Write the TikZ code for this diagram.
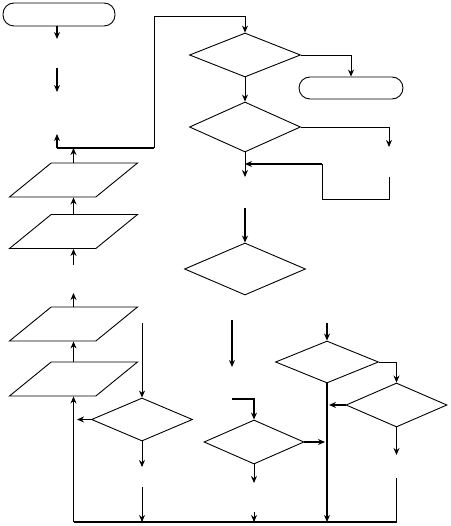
\documentclass[tikz,border=0pt]{standalone}
\usepackage{tikz}
\usetikzlibrary{shapes.geometric, arrows.meta}
\tikzset{
  term/.style     = {rectangle, rounded corners=11pt, draw, line width=0.9pt,
                     minimum width=112pt, minimum height=23pt, inner sep=0pt},
  io/.style       = {trapezium, trapezium left angle=47, trapezium right angle=133,
                     trapezium stretches=true, draw, line width=0.9pt,
                     minimum width=128pt, minimum height=34pt, inner sep=1pt},
  decision/.style = {diamond, draw, line width=0.9pt, inner sep=0pt,
                     minimum width=101pt, minimum height=44pt},
  flow/.style     = {line width=0.9pt},
  flowb/.style    = {line width=1.8pt},
  arr/.style      = {-{Stealth[length=7pt, width=6pt]}, flow},
  arrb/.style     = {-{Stealth[length=7pt, width=6pt]}, flowb},
}

\begin{document}
\begin{tikzpicture}[x=1pt, y=-1pt]
  \useasboundingbox (0,0) rectangle (450,526);

  % ── Terminals ──────────────────────────────────────────────────────────────
  \node[term]                                        (start) at (59,14.5)  {};
  \node[term, minimum width=104pt, minimum height=22pt] (stop) at (351,88) {};

  % ── Input / output column ──────────────────────────────────────────────────
  \node[io] (io1) at (73.5,180)   {};
  \node[io] (io2) at (73.5,231.5) {};
  \node[io] (io3) at (73.5,324)   {};
  \node[io] (io4) at (73.5,379)   {};

  % ── Decisions ──────────────────────────────────────────────────────────────
  \node[decision, minimum width=111pt]                     (d1) at (245,55)    {};
  \node[decision, minimum width=111pt, minimum height=50pt] (d2) at (245,127)  {};
  \node[decision, minimum width=121pt, minimum height=52pt] (d3) at (245,269)  {};
  \node[decision, minimum height=43pt]                     (d4) at (142,419.5) {};
  \node[decision, minimum width=100pt]                     (d5) at (254,442)   {};
  \node[decision, minimum width=103pt, minimum height=42pt] (d6) at (327,362)  {};
  \node[decision]                                          (d7) at (396.5,405) {};

  % ── Free ends ──────────────────────────────────────────────────────────────
  \coordinate (s1)  at (57,39);
  \coordinate (s2)  at (57,68);
  \coordinate (s3)  at (57,92);
  \coordinate (s4)  at (57,134);
  \coordinate (j1)  at (57,148);
  \coordinate (j2)  at (154,148);
  \coordinate (loop) at (154,16);
  \coordinate (s5)  at (73.5,265);
  \coordinate (s6)  at (73.5,293);
  \coordinate (b1)  at (73.5,522);
  \coordinate (b2)  at (396.5,522);
  \coordinate (s7)  at (142,323);
  \coordinate (s8)  at (77,419.5);
  \coordinate (s9)  at (142,467);
  \coordinate (s10) at (142,487);
  \coordinate (s11) at (232,320);
  \coordinate (s12) at (232,367);
  \coordinate (s13) at (232,399);
  \coordinate (s15) at (254,483);
  \coordinate (s16) at (254,512);
  \coordinate (s17) at (327,323);
  \coordinate (s18) at (396.5,455);
  \coordinate (s19) at (396.5,478);
  \coordinate (s20) at (389,147);
  \coordinate (s21) at (245,177);
  \coordinate (r1)  at (389,177);
  \coordinate (r2)  at (322,164);
  \coordinate (r3)  at (322,199);
  \coordinate (s25) at (245,208);

  % ── Left column ────────────────────────────────────────────────────────────
  \draw[arrb] (start.south -| s1) -- (s1);
  \draw[arrb] (s2) -- (s3);
  \draw[arrb] (j1) -- (s4);
  \draw[flowb] (j1) -- (j2);
  \draw[arr]  (j2) -- (loop) -| (d1.north);
  \draw[arr]  (io1.north) -- (io1.north |- j1);
  \draw[arrb] (io2.north) -- (io1.south);
  \draw[arr]  (s5) -- (io2.south);
  \draw[arr]  (io3.north) -- (s6);
  \draw[arr]  (io4.north) -- (io3.south);

  % ── Upper middle ───────────────────────────────────────────────────────────
  \draw[arr]  (d1.east) -| (stop.north);
  \draw[arr]  (d1.south) -- (d2.north);
  \draw[arr]  (d2.east) -| (s20);
  \draw[arr]  (d2.south) -- (s21);
  \draw[flow] (r1) |- (r3) -- (r2);
  \draw[arrb] (r2) -- (r2 -| d2.south);
  \draw[arrb] (s25) -- (d3.north);

  % ── Lower left decision ────────────────────────────────────────────────────
  \draw[arr]  (s7) -- (d4.north);
  \draw[arrb] (d4.west) -- (s8);
  \draw[arr]  (d4.south) -- (s9);
  \draw[arr]  (s10) -- (s10 |- b1);

  % ── Lower middle decision ──────────────────────────────────────────────────
  \draw[arrb] (s11) -- (s12);
  \draw[arrb] (s13) -| (d5.north);
  \draw[arrb] (d5.east) -- ([xshift=-2pt]d5.east -| d6.south);
  \draw[arr]  (d5.south) -- (s15);
  \draw[arr]  (s16) -- (s16 |- b1);

  % ── Right decisions ────────────────────────────────────────────────────────
  \draw[arrb] (s17) -- (d6.north);
  \draw[arrb] (d6.south) -- (d6.south |- b1);
  \draw[flow] (d6.east) -| ([yshift=20pt]d7.north);
  \draw[arrb] ([yshift=21pt]d7.north) -- (d7.north);
  \draw[arrb] (d7.west) -- ([xshift=2pt]d7.west -| d6.south);
  \draw[arr]  (d7.south) -- (s18);
  \draw[flow] (s19) -- (b2);

  % ── Bottom return line ─────────────────────────────────────────────────────
  \draw[flowb] (b2) -- (b1);
  \draw[arr]  (b1) -- (io4.south);

\end{tikzpicture}
\end{document}
